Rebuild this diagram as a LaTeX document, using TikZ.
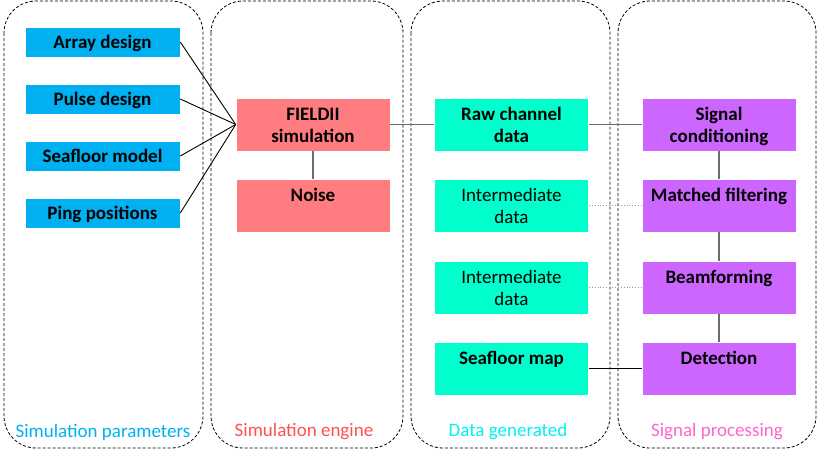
\documentclass[tikz,border=0pt]{standalone}
\usepackage{fontspec}
\setmainfont{Carlito}
\usetikzlibrary{positioning}
\definecolor{cblue}{HTML}{00B0F0}
\definecolor{cred}{HTML}{FF7C80}
\definecolor{credtxt}{HTML}{FF5050}
\definecolor{caqua}{HTML}{00FFCC}
\definecolor{caquatxt}{HTML}{00F0F0}
\definecolor{cviolet}{HTML}{CC66FF}
\definecolor{cpinktxt}{HTML}{FF66CC}
\definecolor{cline}{HTML}{6B6B6B}
\tikzset{
  every picture/.style={font=\fontsize{19}{22}\selectfont, line width=1pt},
  box/.style={fill=#1, draw=white, line width=0.6pt, inner sep=0pt, align=center},
  box/.default=cblue,
  bold/.style={font=\fontsize{19}{22}\selectfont\bfseries},
  small/.style={bold, minimum width=155pt, minimum height=30pt, text height=17pt, text depth=4pt},
  tall/.style={minimum width=154pt, minimum height=53pt, text height=15pt, text depth=24pt},
  twoline/.style={tall, text height=39pt, text depth=4pt},
  lane/.style={draw, dash pattern=on 3pt off 2pt, line width=0.8pt, rounded corners=32pt},
  lanetitle/.style={font=\fontsize{19}{22}\selectfont, text=#1},
  link/.style={draw=black, line width=0.9pt},
  glink/.style={draw=cline, line width=1.2pt},
  dlink/.style={draw=cline!70, dotted, line width=0.9pt},
}
\begin{document}
\begin{tikzpicture}[x=1pt, y=-1pt]
  \useasboundingbox (0,0) rectangle (817,456);
  % the four lanes
  \draw[lane] (4,1) rectangle (203,448);
  \draw[lane] (211,1) rectangle (403,448);
  \draw[lane] (411,1) rectangle (610,448);
  \draw[lane] (618,1) rectangle (816,448);
  \node[lanetitle=cblue] (t1) at (103,432) {Simulation parameters};
  \node[lanetitle=credtxt] (t2) at (304,432) {Simulation engine};
  \node[lanetitle=caquatxt] (t3) at (508,432) {Data generated};
  \node[lanetitle=cpinktxt] (t4) at (717,432) {Signal processing};
  % parameters
  \foreach \i/\y/\t in {1/42/Array design,2/99/Pulse design,3/156/Seafloor model,4/213/Ping positions}
    {\node[box=cblue, small] (p\i) at (102.5,\y) {\t};}
  % engine
  \node[box=cred, twoline, bold] (sim) at (313,124.5) {FIELDII\\simulation};
  \node[box=cred, tall, bold] (noise) at (313,205.5) {Noise};
  \foreach \i in {1,...,4} {\draw[link] (p\i.east) -- (sim.west);}
  \draw[glink] (sim) -- (noise);
  % data
  \node[box=caqua, twoline, bold] (raw) at (511.5,124.5) {Raw channel\\data};
  \node[box=caqua, twoline] (mid1) at (511.5,205.5) {Intermediate\\data};
  \node[box=caqua, twoline] (mid2) at (511.5,287.5) {Intermediate\\data};
  \node[box=caqua, tall, bold] (map) at (511.5,368.5) {Seafloor map};
  \draw[glink] (sim) -- (raw);
  % processing
  \node[box=cviolet, twoline, bold] (s1) at (719,124.5) {Signal\\conditioning};
  \foreach \i/\y/\t in {2/205.5/Matched filtering,3/287.5/Beamforming,4/368.5/Detection}
    {\node[box=cviolet, tall, bold] (s\i) at (719,\y) {\t};}
  \draw[glink] (s1) -- (s2);
  \draw[glink] (s2) -- (s3);
  \draw[glink] (s3) -- (s4);
  \draw[glink] (raw) -- (s1);
  \draw[dlink] (mid1) -- (s2);
  \draw[dlink] (mid2) -- (s3);
  \draw[link] (map) -- (s4);
\end{tikzpicture}
\end{document}
